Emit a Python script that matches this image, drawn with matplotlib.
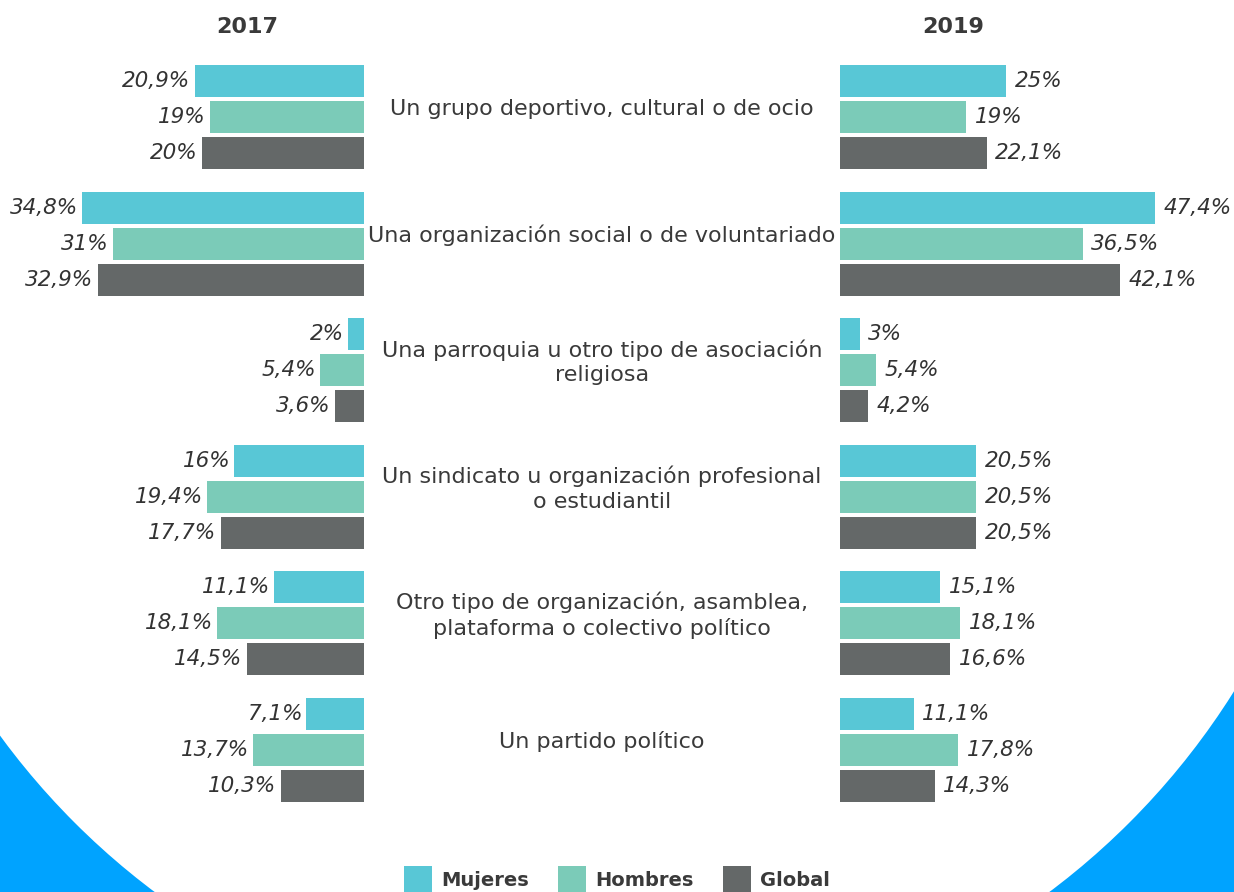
import numpy as np
import matplotlib
matplotlib.use('Agg')
import matplotlib.pyplot as plt
from matplotlib.patches import Circle, Rectangle
from matplotlib.transforms import blended_transform_factory

categorias = ['Un grupo deportivo, cultural o de ocio',
              'Una organización social o de voluntariado',
              'Una parroquia u otro tipo de asociación\nreligiosa',
              'Un sindicato u organización profesional\no estudiantil',
              'Otro tipo de organización, asamblea,\nplataforma o colectivo político',
              'Un partido político']

series = ['Mujeres', 'Hombres', 'Global']
colores = ['#58c7d6', '#7bcbb8', '#646868']

v2017_mujeres = [20.9, 34.8, 2, 16, 11.1, 7.1]
v2017_hombres = [19, 31, 5.4, 19.4, 18.1, 13.7]
v2017_global = [20, 32.9, 3.6, 17.7, 14.5, 10.3]

v2019_mujeres = [25, 47.4, 3, 20.5, 15.1, 11.1]
v2019_hombres = [19, 36.5, 5.4, 20.5, 18.1, 17.8]
v2019_global = [22.1, 42.1, 4.2, 20.5, 16.6, 14.3]

txt = '#3a3a3a'
azul = '#00a3ff'

W, H = 1234, 892
fig = plt.figure(figsize=(W / 100, H / 100), dpi=100)
fig.patch.set_facecolor(azul)
# circulo blanco de fondo (las esquinas quedan en azul)
fig.patches.append(Circle((602 / 100, (H - 295) / 100), 7.46, transform=fig.dpi_scale_trans,
                          facecolor='white', edgecolor='none', zorder=-5))

def fmt(v):
    s = ('%.1f' % v).replace('.', ',')
    if s.endswith(',0'):
        s = s[:-2]
    return s + '%'

pitch = 126.6
top, bot = 40, 830
y0 = 117
ylim = ((bot - y0) / pitch, -(y0 - top) / pitch)
off = 36 / pitch
hgt = 32 / pitch
y = np.arange(len(categorias))

def panel(x0, x1, datos, escala, izquierda):
    ax = fig.add_axes([x0 / W, 1 - bot / H, (x1 - x0) / W, (bot - top) / H])
    ax.set_facecolor('none')
    for k, vals in enumerate(datos):
        yy = y + (k - 1) * off
        ax.barh(yy, vals, height=hgt, color=colores[k])
        for v, yi in zip(vals, yy):
            if izquierda:
                ax.annotate(fmt(v), (v, yi), xytext=(-3, 0), textcoords='offset points',
                            ha='right', va='center', fontsize=15.5, style='italic', color='#333333')
            else:
                ax.annotate(fmt(v), (v, yi), xytext=(6, 0), textcoords='offset points',
                            ha='left', va='center', fontsize=15.5, style='italic', color='#333333')
    span = (x1 - x0) / escala
    if izquierda:
        ax.set_xlim(span, 0)
    else:
        ax.set_xlim(0, span)
    ax.set_ylim(*ylim)
    ax.axis('off')
    return ax

ax1 = panel(0, 364, [v2017_mujeres, v2017_hombres, v2017_global], 8.1, True)
ax2 = panel(840, 1234, [v2019_mujeres, v2019_hombres, v2019_global], 6.65, False)

# etiquetas de categoria en el centro
trans = blended_transform_factory(fig.transFigure, ax1.transData)
for i, c in enumerate(categorias):
    ax1.text(602 / W, i - 8 / pitch, c, transform=trans,
             ha='center', va='center', fontsize=16, color=txt, family='DejaVu Sans',
             linespacing=1.3, clip_on=False)

fig.text(247 / W, 1 - 27 / H, '2017', ha='center', va='center', fontsize=16, fontweight='bold', color=txt)
fig.text(953 / W, 1 - 27 / H, '2019', ha='center', va='center', fontsize=16, fontweight='bold', color=txt)

# leyenda
lx = [404, 558, 723]
for s, c, x in zip(series, colores, lx):
    fig.patches.append(Rectangle((x / W, 1 - 892 / H), 28 / W, 26 / H, transform=fig.transFigure,
                                 facecolor=c, edgecolor='none'))
    fig.text((x + 37) / W, 1 - 880 / H, s, ha='left', va='center', fontsize=14,
             fontweight='bold', color=txt)

fig.savefig('out.png', dpi=100, facecolor=fig.get_facecolor())
